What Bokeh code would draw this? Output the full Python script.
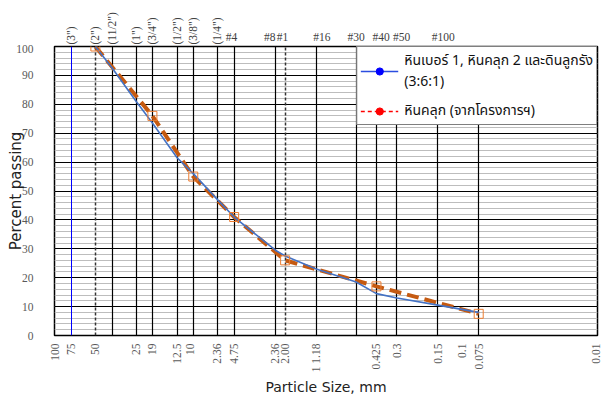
import math
from bokeh.plotting import figure
from bokeh.layouts import column
from bokeh.models import (Range1d, FixedTicker, Grid, Legend, LegendItem)
from bokeh.embed import file_html
from bokeh.resources import INLINE

# ---- data ----
sizes_blue = [50, 37.5, 25, 19, 12.5, 9.5, 6.3, 4.75, 2.36, 2.0, 1.18, 0.6, 0.425, 0.3, 0.15, 0.075]
pass_blue = [100, 92.5, 81, 73.5, 61.5, 56, 47, 41, 29.5, 27.5, 23, 18.5, 14.5, 13, 10.5, 8]
sizes_orange = [50, 19, 9.5, 4.75, 2.0, 0.425, 0.075]
pass_orange = [100, 76, 55, 41, 26, 17, 7.5]

label_blue = "หินเบอร์ 1, หินคลุก 2 และดินลูกรัง\n(3:6:1)"
label_orange = "หินคลุก (จากโครงการฯ)"

x_tick_values = [100, 75, 50, 25, 19, 12.5, 10, 6.3, 4.75, 2.36, 2.0, 1.18, 0.425, 0.3, 0.15, 0.1, 0.075, 0.01]
x_tick_labels = ["100", "75", "50", "25", "19", "12.5", "10", "2.36", "4.75", "2.36", "2.00", "1 1.18",
                 "0.425", "0.3", "0.15", "0.1", "0.075", "0.01"]
y_tick_values = list(range(0, 101, 10))
y_minor_values = list(range(0, 101, 2))

sieve_sizes = [37.5, 25, 19, 12.5, 9.5, 6.3, 4.75, 2.36, 1.18, 0.6, 0.425, 0.3, 0.15, 0.075]
dashed_sizes = [50, 2.0]
blue_ref_sizes = [75]

inch_sizes = [75, 50, 37.5, 25, 19, 12.5, 9.5, 6.3]
inch_labels = ['(3")', '(2")', '(11/2")', '(1")', '(3/4")', '(1/2")', '(3/8")', '(1/4")']
mesh_sizes = [4.75, 2.36, 2.0, 1.18, 0.6, 0.425, 0.3, 0.15]
mesh_labels = ["#4", "#8", "#1", "#16", "#30", "#40", "#50", "#100"]

# ---- styles for the sieve-name labels ----
mesh_align = ["right", "right", "right", "left", "center", "left", "left", "left"]
mesh_dx = [3, 0, 3, -3, 0, -4, -4, -6]

SERIF = "Liberation Serif"
SANS = "DejaVu Sans"
THAI = "Noto Sans Thai, Noto Sans, sans-serif"

TOP_H = 44

p = figure(width=601, height=398 - TOP_H, x_axis_type="log",
           x_range=Range1d(100, 0.01), y_range=Range1d(0, 100),
           output_backend="svg", toolbar_location=None,
           min_border_left=54, min_border_right=4, min_border_top=2, min_border_bottom=63,
           background_fill_color="white", border_fill_color="white")
p.extra_y_ranges = {"legend_only": Range1d(1000, 1100)}
p.outline_line_color = "black"
p.outline_line_width = 1.5

# axes
xa = p.xaxis[0]
xa.ticker = FixedTicker(ticks=x_tick_values)
xa.major_label_overrides = {v: t for v, t in zip(x_tick_values, x_tick_labels)}
xa.major_label_orientation = math.pi / 2
xa.major_label_text_font = SERIF
xa.major_label_text_font_size = "11.5px"
xa.major_label_text_color = "#595959"
xa.major_label_standoff = 2
xa.major_tick_line_color = None
xa.minor_tick_line_color = None
xa.axis_line_color = None
xa.axis_label = "Particle Size, mm"
xa.axis_label_text_font = SANS
xa.axis_label_text_font_size = "14px"
xa.axis_label_text_font_style = "normal"
xa.axis_label_text_color = "#222222"
xa.axis_label_standoff = 4

ya = p.yaxis[0]
ya.ticker = FixedTicker(ticks=y_tick_values, minor_ticks=y_minor_values)
ya.major_label_text_font = SERIF
ya.major_label_text_font_size = "11.5px"
ya.major_label_text_color = "#595959"
ya.major_label_standoff = 15
ya.major_tick_line_color = None
ya.minor_tick_line_color = None
ya.axis_line_color = None
ya.axis_label = "Percent passing"
ya.axis_label_text_font = SANS
ya.axis_label_text_font_size = "15px"
ya.axis_label_text_font_style = "normal"
ya.axis_label_text_color = "#222222"
ya.axis_label_standoff = -12

# grids
p.xgrid.visible = False
p.ygrid.grid_line_color = "black"
p.ygrid.grid_line_width = 1
p.ygrid.minor_grid_line_color = "#BDBDBD"
p.ygrid.minor_grid_line_width = 1
p.add_layout(Grid(dimension=0, ticker=FixedTicker(ticks=sieve_sizes),
                  grid_line_color="black", grid_line_width=1.2))
p.add_layout(Grid(dimension=0, ticker=FixedTicker(ticks=dashed_sizes),
                  grid_line_color="#333333", grid_line_width=1.5, grid_line_dash="3 2"))
p.add_layout(Grid(dimension=0, ticker=FixedTicker(ticks=blue_ref_sizes),
                  grid_line_color="#0000FF", grid_line_width=1))

# series
p.line(sizes_orange, pass_orange, line_color="#C55A11", line_width=4, line_dash="12 6")
p.line(sizes_blue, pass_blue, line_color="#4472C4", line_width=1.6)
p.scatter(sizes_orange, pass_orange, marker="square", size=9,
          fill_color=None, line_color="#ED7D31", line_width=1)

# renderers that only supply the legend glyphs (drawn in an off-screen range)
lg_b_line = p.line(sizes_blue, pass_blue, y_range_name="legend_only", line_color="#2B4DE0", line_width=1.5)
lg_b_pt = p.scatter(sizes_blue, pass_blue, y_range_name="legend_only", marker="circle", size=6,
                    fill_color="#0000FF", line_color="#0000FF")
lg_o_line = p.line(sizes_orange, pass_orange, y_range_name="legend_only", line_color="#FF0000",
                   line_width=1.5, line_dash="4 3")
lg_o_pt = p.scatter(sizes_orange, pass_orange, y_range_name="legend_only", marker="circle", size=6,
                    fill_color="#FF0000", line_color="#FF0000")

legend = Legend(items=[LegendItem(label=label_blue, renderers=[lg_b_line, lg_b_pt]),
                       LegendItem(label=label_orange, renderers=[lg_o_line, lg_o_pt])],
                location="top_right", margin=0, padding=3, spacing=8,
                glyph_width=38, glyph_height=18, label_standoff=6, label_width=185,
                label_text_font=THAI, label_text_font_size="14px", label_text_line_height=1.25,
                label_text_color="#111111",
                border_line_color="black", border_line_width=1.5,
                background_fill_color="white", background_fill_alpha=1.0)
p.add_layout(legend, "center")

# top strip with the sieve names, sharing the x scale
top = figure(width=601, height=TOP_H, x_axis_type="log", x_range=p.x_range,
             y_range=Range1d(0, TOP_H), output_backend="svg", toolbar_location=None,
             x_axis_location=None, y_axis_location=None,
             min_border_left=54, min_border_right=4, min_border_top=0, min_border_bottom=0,
             background_fill_color="white", border_fill_color="white")
top.outline_line_color = None
top.xgrid.visible = False
top.ygrid.visible = False

kw = dict(text_font=SERIF, text_font_size="11.5px", text_color="#404040")
for s, t in zip(inch_sizes, inch_labels):
    top.text(x=[s], y=[0], text=[t], angle=math.pi / 2, text_align="left",
             text_baseline="middle", background_fill_color="white", **kw)
for s, t, al, dx in zip(mesh_sizes, mesh_labels, mesh_align, mesh_dx):
    top.text(x=[s], y=[2], text=[t], text_align=al, text_baseline="bottom", x_offset=dx, **kw)

layout = column(top, p, spacing=0)
open("out.html", "w").write(file_html(layout, INLINE))
